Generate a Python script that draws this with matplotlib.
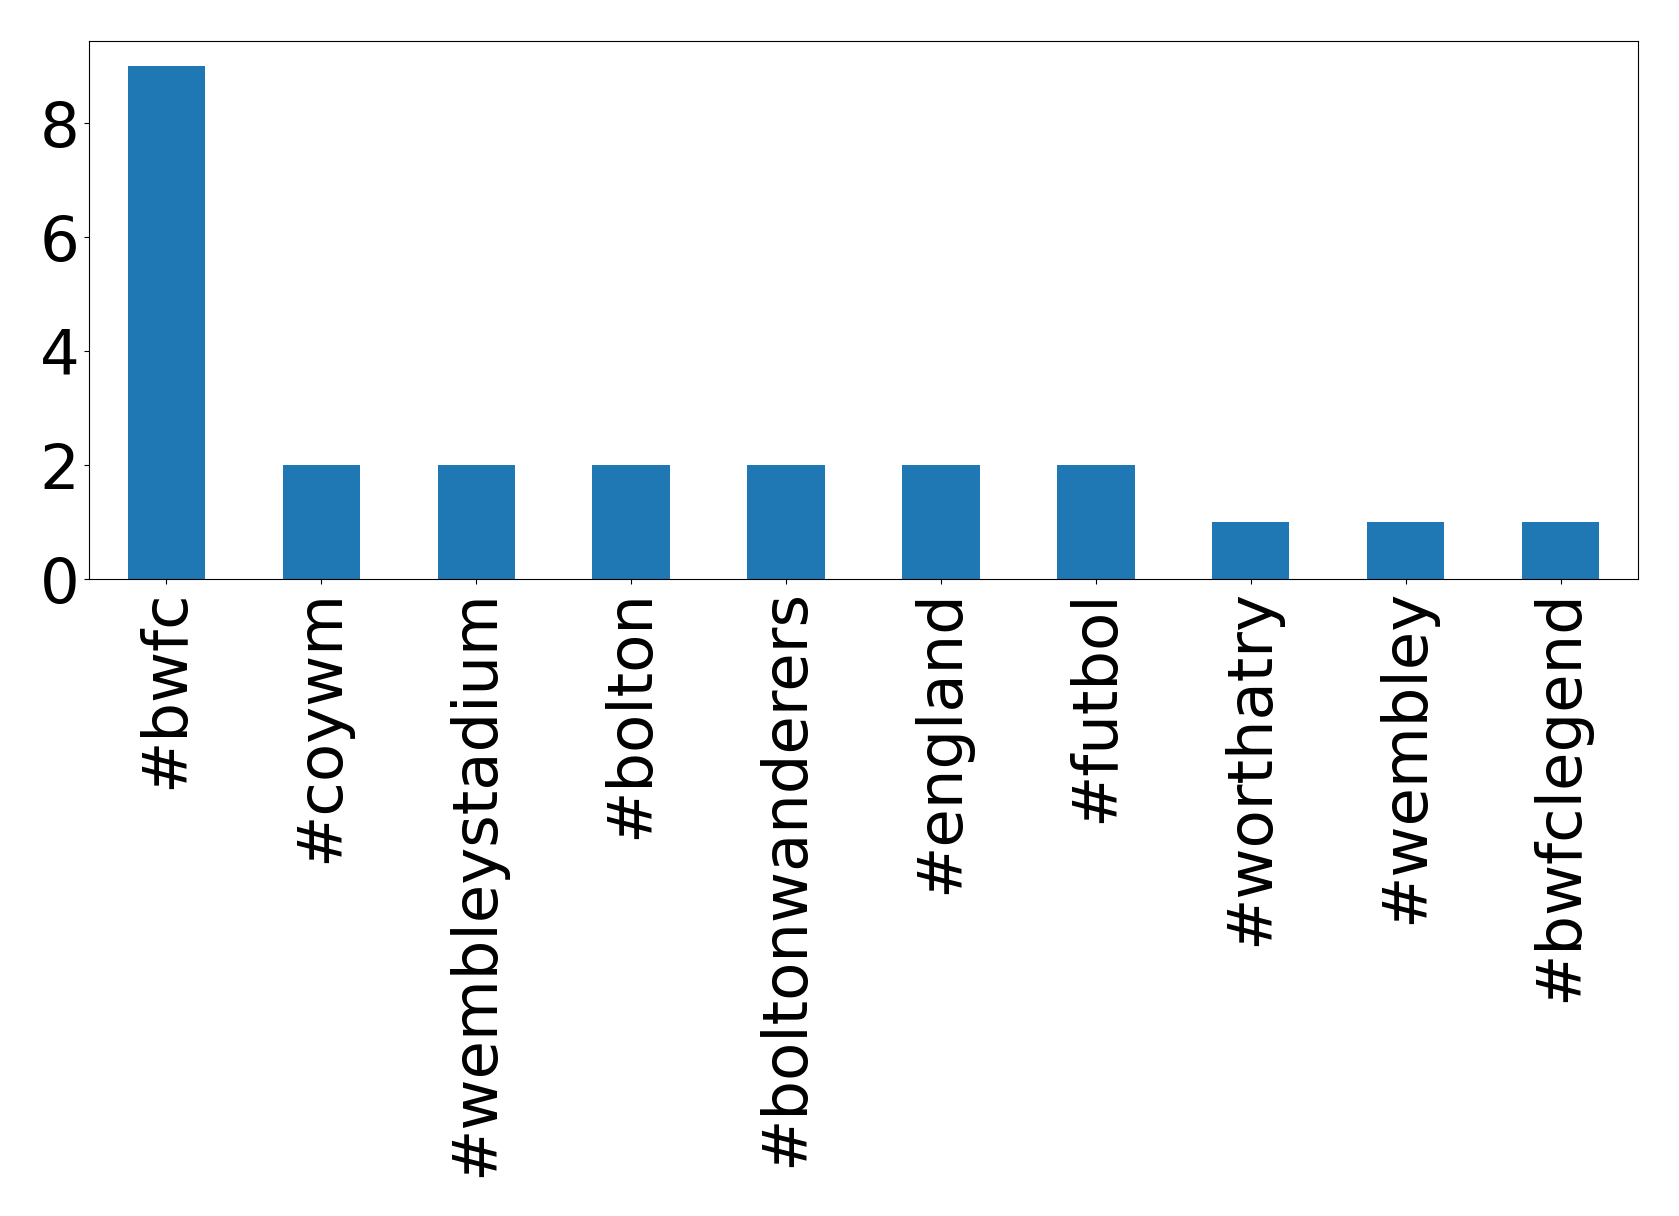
import matplotlib
matplotlib.use("Agg")
import matplotlib.pyplot as plt
import pandas as pd

categories = ["#bwfc", "#coywm", "#wembleystadium", "#bolton", "#boltonwanderers",
              "#england", "#futbol", "#worthatry", "#wembley", "#bwfclegend"]
counts = [9, 2, 2, 2, 2, 2, 2, 1, 1, 1]

s = pd.Series(counts, index=categories)

fig = plt.figure(figsize=(16.79, 12.16), dpi=100)
ax = fig.add_axes([89/1679, 1 - 579.3/1216, (1638-89)/1679, (579.3-40.7)/1216])
s.plot(kind="bar", ax=ax, color="#1f77b4", fontsize=45)
ax.set_yticks([0, 2, 4, 6, 8])
ax.tick_params(axis="x", labelrotation=90)
fig.savefig("out.png", dpi=100)
